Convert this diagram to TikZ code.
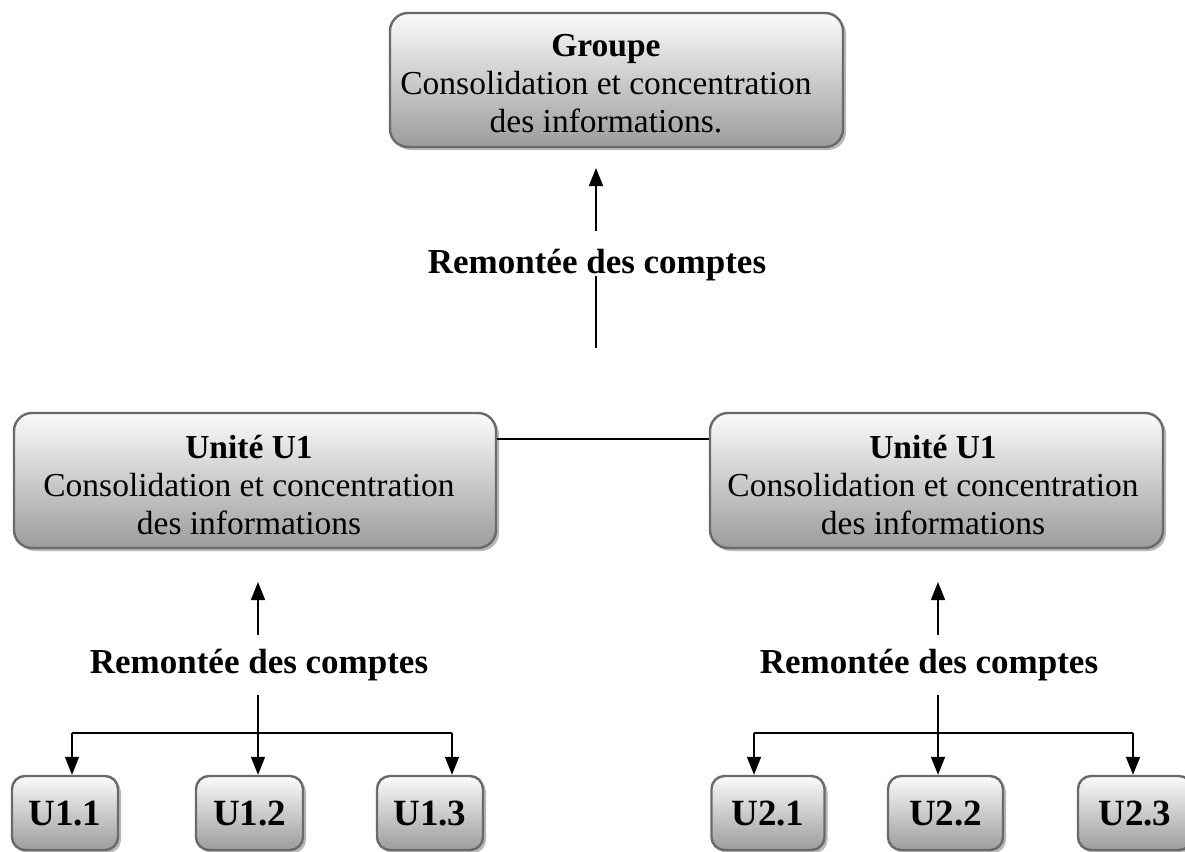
\documentclass[tikz,border=0pt]{standalone}
\usepackage{fontspec}
\setmainfont{Liberation Serif}
\usetikzlibrary{shadows,arrows.meta}
\definecolor{boxline}{HTML}{6A6A6A}
\definecolor{boxtop}{HTML}{FBFBFB}
\definecolor{boxbot}{HTML}{9C9C9C}
\definecolor{shadowgray}{HTML}{B8B8B8}
\tikzset{
  panel/.style={draw=boxline, line width=2.4pt, rounded corners=18pt,
    top color=boxtop, bottom color=boxbot, inner sep=0pt,
    drop shadow={shadow xshift=3pt, shadow yshift=-3pt, fill=shadowgray, opacity=1}},
  bigpanel/.style={panel},
  smallpanel/.style={panel, rounded corners=13pt},
  boxtext/.style={font=\fontsize{33.5}{38}\selectfont, align=center, inner sep=0pt},
  smalltext/.style={font=\fontsize{37}{40}\selectfont\bfseries, inner sep=0pt},
  flowlabel/.style={font=\fontsize{35}{38}\selectfont\bfseries, inner sep=0pt},
  wire/.style={line width=1.6pt, draw=black},
  tip/.style={wire, -{Triangle[length=18pt, width=14pt]}}
}
\begin{document}
\begin{tikzpicture}[x=1pt, y=-1pt]
\useasboundingbox (0,0) rectangle (1185,851);

% top level box
\node[bigpanel, minimum width=453pt, minimum height=134pt] (grp) at (616.5,80) {};
\node[boxtext] (grp-t) at (606,84) {\textbf{Groupe}\\Consolidation et concentration\\des informations.};

% middle level boxes
\node[bigpanel, minimum width=482pt, minimum height=135pt] (u1) at (255,480.5) {};
\node[boxtext] (u1-t) at (249,485) {\textbf{Unité U1}\\Consolidation et concentration\\des informations};
\node[bigpanel, minimum width=453pt, minimum height=135pt] (u2) at (936.5,480.5) {};
\node[boxtext] (u2-t) at (933,485) {\textbf{Unité U1}\\Consolidation et concentration\\des informations};

% bottom level boxes
\foreach \name/\cx/\w/\txt in {a/65/106/U1.1, b/249.5/107/U1.2, c/430/106/U1.3,
                              d/768/113/U2.1, e/945.5/115/U2.2, f/1135/114/U2.3} {
  \node[smallpanel, minimum width=\w pt, minimum height=74pt] (\name) at (\cx,813) {};
  \node[smalltext] (\name-t) at (\cx,825) [anchor=base] {\txt};
}

% link between the two units
\draw[wire] (u1.east |- 0,439) -- (u2.west |- 0,439);

% accounts going up to the group
\coordinate (g-lo) at (596,231);
\coordinate (g-hi) at (596,168);
\coordinate (g-a) at (596,276);
\coordinate (g-b) at (596,348);
\node[flowlabel, anchor=base] (g-lbl) at (597,273) {Remontée des comptes};
\draw[tip] (g-lo) -- (g-hi);
\draw[wire] (g-a) -- (g-b);

% accounts going up to unit 1
\coordinate (l-lo) at (258,635);
\coordinate (l-hi) at (258,582);
\coordinate (l-a) at (258,695);
\coordinate (l-bar) at (258,733);
\coordinate (l-west) at (72,733);
\coordinate (l-east) at (452,733);
\node[flowlabel, anchor=base] (l-lbl) at (259,673) {Remontée des comptes};
\draw[tip] (l-lo) -- (l-hi);
\draw[wire] (l-a) -- (l-bar);
\draw[wire] (l-west) -- (l-east);
\draw[tip] (l-west) -- (l-west |- a.north);
\draw[tip] (l-bar) -- (l-bar |- b.north);
\draw[tip] (l-east) -- (l-east |- c.north);

% accounts going up to unit 2
\coordinate (r-lo) at (938,635);
\coordinate (r-hi) at (938,582);
\coordinate (r-a) at (938,695);
\coordinate (r-bar) at (938,733);
\coordinate (r-west) at (754,733);
\coordinate (r-east) at (1133,733);
\node[flowlabel, anchor=base] (r-lbl) at (929,673) {Remontée des comptes};
\draw[tip] (r-lo) -- (r-hi);
\draw[wire] (r-a) -- (r-bar);
\draw[wire] (r-west) -- (r-east);
\draw[tip] (r-west) -- (r-west |- d.north);
\draw[tip] (r-bar) -- (r-bar |- e.north);
\draw[tip] (r-east) -- (r-east |- f.north);
\end{tikzpicture}
\end{document}
